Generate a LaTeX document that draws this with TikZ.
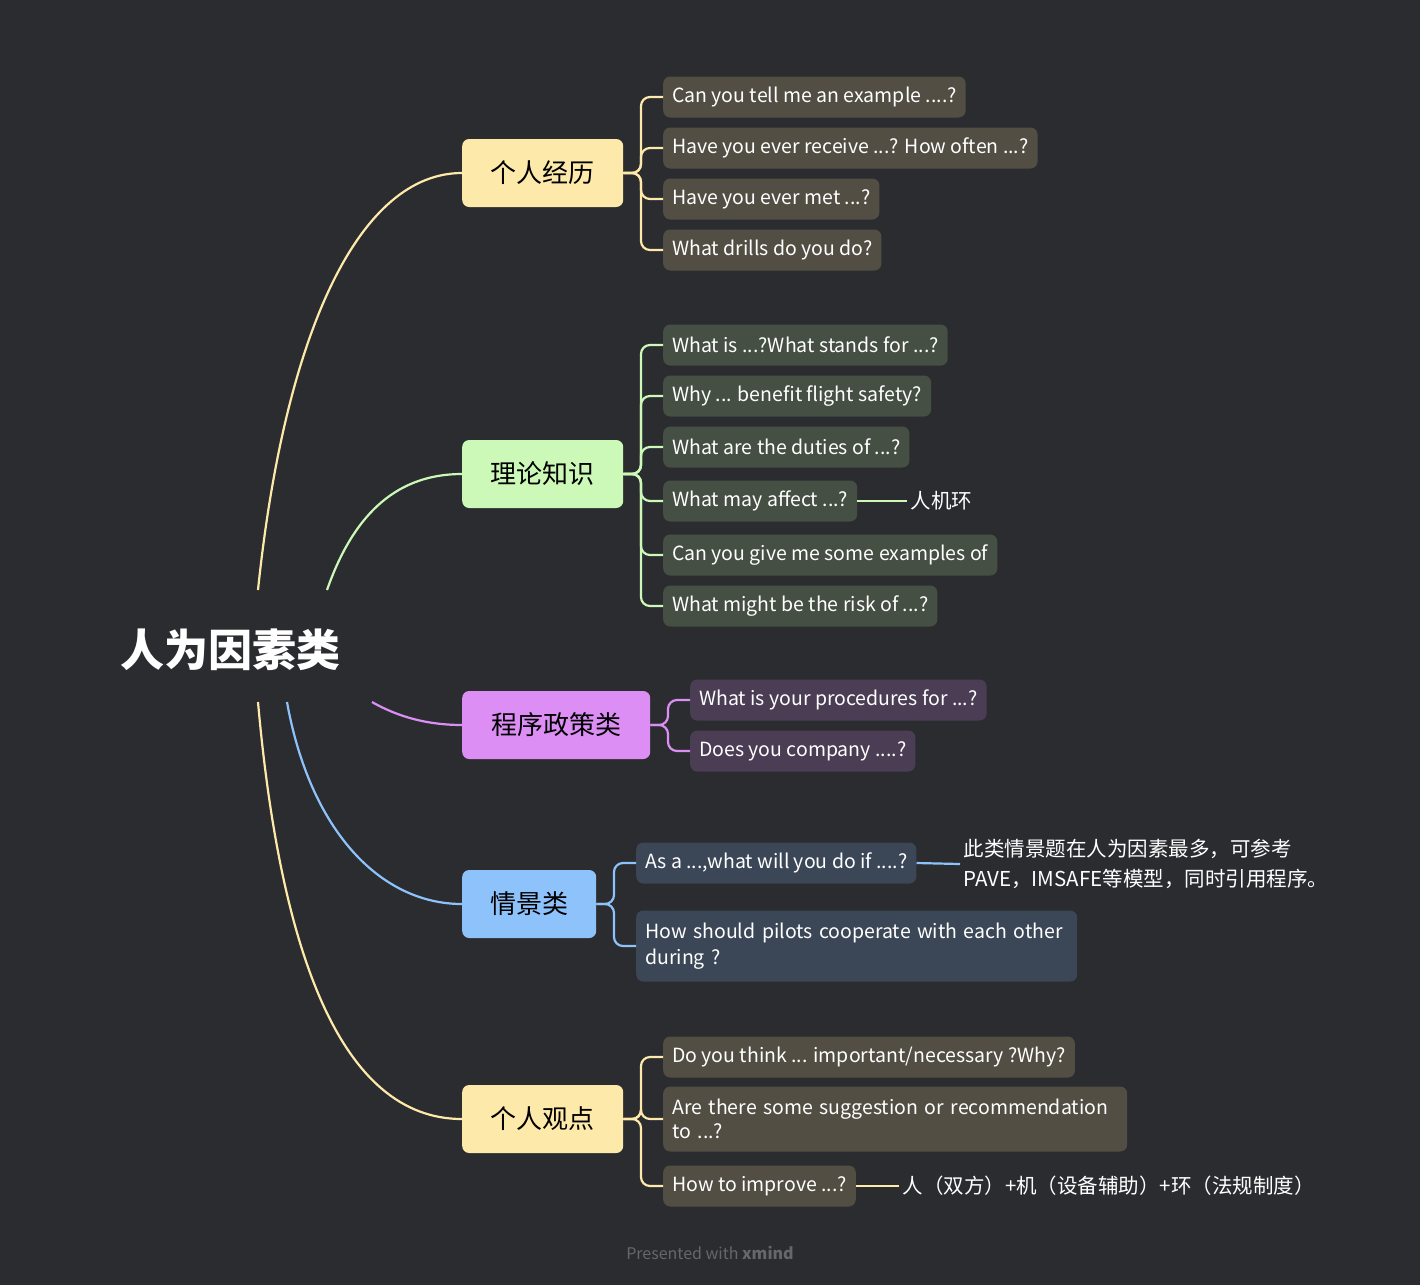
\documentclass[tikz,border=0pt]{standalone}
\usepackage{fontspec}
\setmainfont{Noto Sans CJK SC}
\begin{document}
\begin{tikzpicture}[x=1pt,y=-1pt]
\definecolor{bg}{HTML}{2B2C30}
\definecolor{cy}{HTML}{FDE9A9}\definecolor{cg}{HTML}{CCF9B8}
\definecolor{cp}{HTML}{DC8EF5}\definecolor{cb}{HTML}{8EC2FB}
\definecolor{dy}{HTML}{524E44}\definecolor{dg}{HTML}{454F43}
\definecolor{dp}{HTML}{4A3D54}\definecolor{db}{HTML}{3B4656}
\fill[bg] (0,0) rectangle (1420,1285);
\useasboundingbox (0,0) rectangle (1420,1285);
\tikzset{
 main/.style={rounded corners=7pt,minimum height=68pt,anchor=west,inner xsep=0pt,font=\fontsize{26}{30}\selectfont,text=black},
 ch/.style={rounded corners=7pt,anchor=west,minimum height=41pt,inner xsep=9pt,font=\fontsize{19.5}{26}\selectfont,text=white},
 lab/.style={anchor=west,font=\fontsize{20.5}{30}\selectfont,text=white},
 ln/.style={line width=2.2pt},
 br/.style={line width=2.2pt,rounded corners=9pt}
}
\node[text=white,font=\fontsize{44}{50}\selectfont\bfseries] (root) at (230,650) {人为因素类};
\node[main,fill=cy,minimum width=161pt] (a) at (462,173) {个人经历};
\node[main,fill=cg,minimum width=161pt] (b) at (462,474) {理论知识};
\node[main,fill=cp,minimum width=188pt] (c) at (462,725) {程序政策类};
\node[main,fill=cb,minimum width=134pt] (d) at (462,904) {情景类};
\node[main,fill=cy,minimum width=161pt] (e) at (462,1119) {个人观点};
\coordinate (r1) at (258,590);\coordinate (r2) at (327,590);
\coordinate (r3) at (372,702);\coordinate (r4) at (287,702);\coordinate (r5) at (258,702);
\draw[ln,cy] (r1) .. controls (285,330) and (360,173) .. (a.west);
\draw[ln,cg] (r2) .. controls (355,510) and (400,474) .. (b.west);
\draw[ln,cp] (r3) .. controls (400,718) and (430,725) .. (c.west);
\draw[ln,cb] (r4) .. controls (310,830) and (380,904) .. (d.west);
\draw[ln,cy] (r5) .. controls (280,950) and (340,1119) .. (e.west);
% yellow
\node[ch,fill=dy] (a1) at (663,97) {Can you tell me an example ....?};
\node[ch,fill=dy] (a2) at (663,148) {Have you ever receive ...? How often ...?};
\node[ch,fill=dy] (a3) at (663,199) {Have you ever met ...?};
\node[ch,fill=dy] (a4) at (663,250) {What drills do you do?};
\foreach \n in {a1,a2,a3,a4}{\draw[br,cy] (a.east) -- (641,173) -- (641,173|-\n.west) -- (\n.west);}
% green
\node[ch,fill=dg] (b1) at (663,345) {What is ...?What stands for ...?};
\node[ch,fill=dg] (b2) at (663,396) {Why ... benefit flight safety?};
\node[ch,fill=dg] (b3) at (663,447) {What are the duties of ...?};
\node[ch,fill=dg] (b4) at (663,501) {What may affect ...?};
\node[ch,fill=dg] (b5) at (663,555) {Can you give me some examples of};
\node[ch,fill=dg] (b6) at (663,606) {What might be the risk of ...?};
\foreach \n in {b1,b2,b3,b4,b5,b6}{\draw[br,cg] (b.east) -- (641,474) -- (641,474|-\n.west) -- (\n.west);}
\node[lab] (b4x) at (907,501) {人机环};
\draw[ln,cg] (b4.east) -- (b4x.west);
% purple
\node[ch,fill=dp] (c1) at (690,700) {What is your procedures for ...?};
\node[ch,fill=dp] (c2) at (690,751) {Does you company ....?};
\foreach \n in {c1,c2}{\draw[br,cp] (c.east) -- (668,725) -- (668,725|-\n.west) -- (\n.west);}
% blue
\node[ch,fill=db] (d1) at (636,863) {As a ...,what will you do if ....?};
\node[ch,fill=db,text width=423pt,align=left,minimum height=71pt] (d2) at (636,946) {How should pilots cooperate with each other during ?};
\foreach \n in {d1,d2}{\draw[br,cb] (d.east) -- (614,904) -- (614,904|-\n.west) -- (\n.west);}
\node[lab,align=left] (d1x) at (960,864) {此类情景题在人为因素最多，可参考\\PAVE，IMSAFE等模型，同时引用程序。};
\draw[ln,cb] (d1.east) -- (d1x.west);
% bottom yellow
\node[ch,fill=dy] (e1) at (663,1057) {Do you think ... important/necessary ?Why?};
\node[ch,fill=dy,text width=446pt,align=left,minimum height=65pt,font=\fontsize{19.5}{24}\selectfont] (e2) at (663,1119) {Are there some suggestion or recommendation to ...?};
\node[ch,fill=dy] (e3) at (663,1186) {How to improve ...?};
\foreach \n in {e1,e2,e3}{\draw[br,cy] (e.east) -- (641,1119) -- (641,1119|-\n.west) -- (\n.west);}
\node[lab] (e3x) at (899,1186) {人（双方）+机（设备辅助）+环（法规制度）};
\draw[ln,cy] (e3.east) -- (e3x.west);
\node[text=gray!70!bg,font=\fontsize{16}{20}\selectfont] (ft) at (710,1253) {Presented with \textbf{xmind}};
\end{tikzpicture}
\end{document}
